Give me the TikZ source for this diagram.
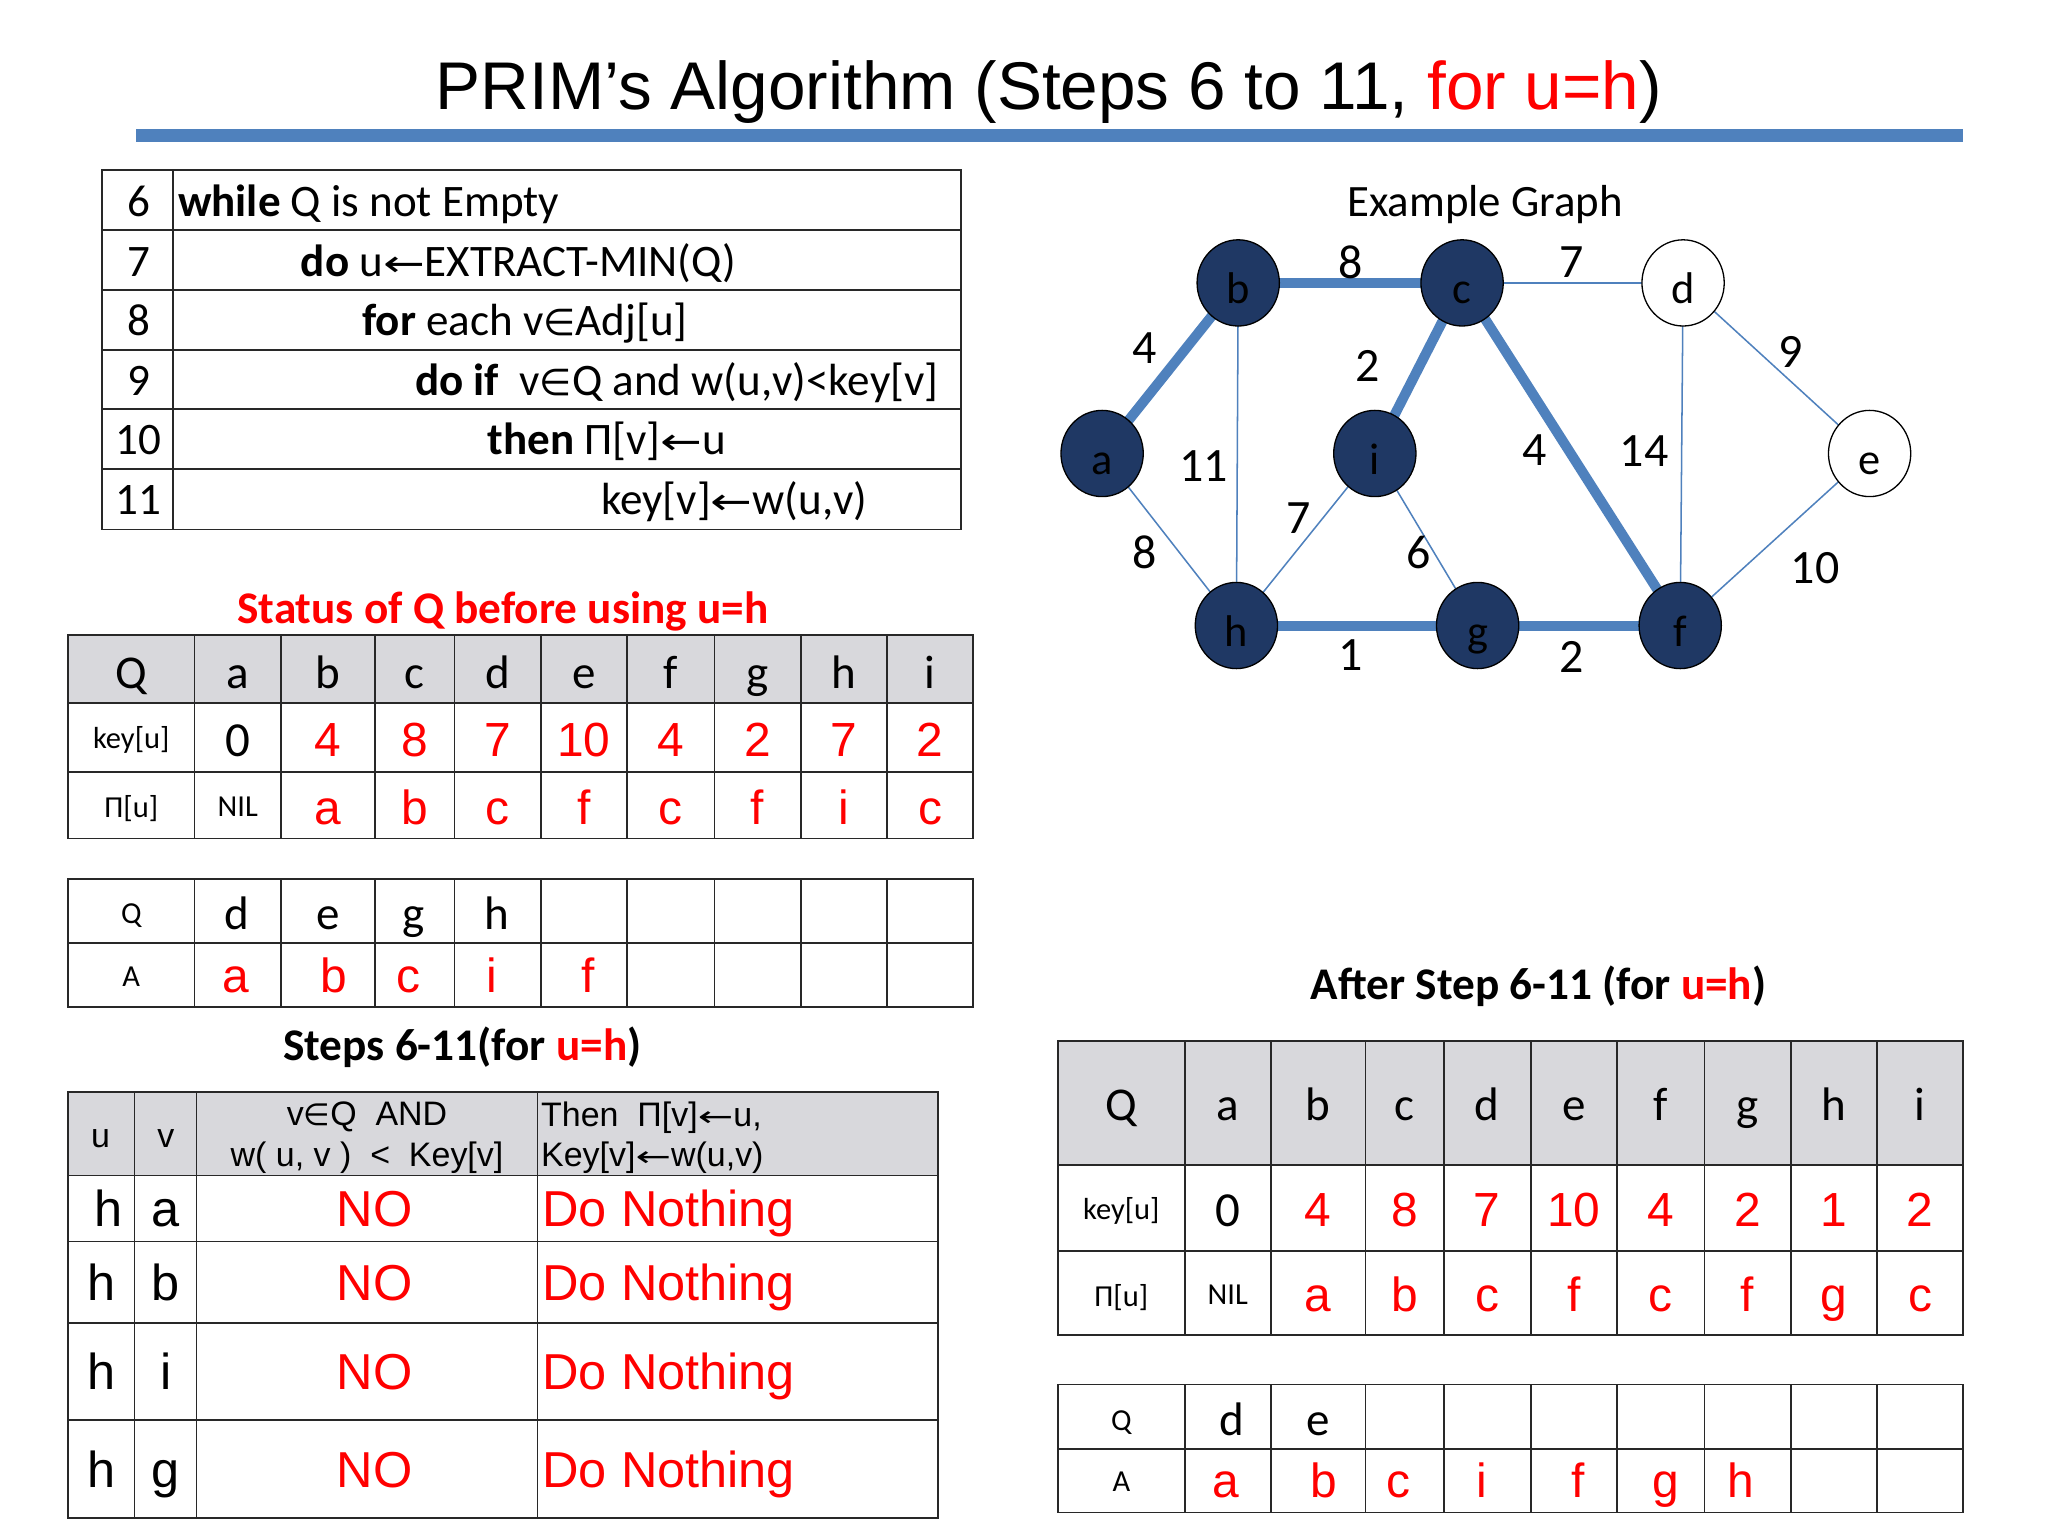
\documentclass[tikz,border=0pt]{standalone}
\usepackage{fontspec}
\setmainfont{Carlito}
\newfontfamily\arialf{Liberation Sans}
\newfontfamily\djv{DejaVu Sans}
\usetikzlibrary{shapes.geometric}
\definecolor{myred}{RGB}{255,0,0}
\definecolor{hdrgray}{RGB}{216,216,220}
\definecolor{navy}{RGB}{31,56,100}
\definecolor{edgeblue}{RGB}{79,129,189}
\definecolor{tline}{RGB}{40,40,40}
\newcommand\fsz[1]{\fontsize{#1}{#1}\selectfont}
\newcommand\larr{{\djv\fsz{17}\scalebox{1.35}[1]{←}}}
\newcommand\elem{{\djv\fsz{17}∈}}
\newcommand\larrA{{\djv\fsz{13}\scalebox{1.5}[1]{←}}}
\newcommand\elemA{{\djv\fsz{14}∈}}
\pgfdeclarelayer{bg}
\pgfdeclarelayer{edges}
\pgfsetlayers{bg,edges,main}
\tikzset{
  tbl/.style={draw=tline, line width=0.8pt},
  tx/.style={inner sep=0pt, anchor=base},
  pcode/.style={tx, anchor=base west, font=\fsz{20.7}},
  hdr/.style={tx, font=\fsz{21.6}},
  lbl/.style={tx, font=\fsz{14}},
  blk/.style={tx, font=\fsz{22.5}},
  rv/.style={tx, font=\arialf\fsz{22}, text=myred},
  heading/.style={tx, font=\bfseries\fsz{20.8}},
  sthdr/.style={tx, font=\arialf\fsz{15.6}},
  stbody/.style={tx, font=\arialf\fsz{23.2}},
  vtx/.style={ellipse, draw=black, line width=0.6pt, fill=navy, minimum width=37.8pt, minimum height=39.6pt, inner sep=0pt, font=\fsz{20.4}, text height=19.2pt, text depth=0pt},
  wvtx/.style={vtx, fill=white},
  mst/.style={draw=edgeblue, line width=4.6pt},
  thin/.style={draw=edgeblue, line width=0.7pt},
  wlab/.style={inner sep=0pt, font=\fsz{22}},
}
\begin{document}
\begin{tikzpicture}[x=0.6pt,y=-0.6pt]
\begin{pgfonlayer}{bg}
\fill[white] (0,0) rectangle (1568,1176);
\end{pgfonlayer}
\useasboundingbox (0,0) rectangle (1568,1176);

% Title
\node[tx, font=\arialf\fsz{31}] (title) at (803,84) {PRIM’s Algorithm (Steps 6 to 11, {\color{myred}for u=h})};
\fill[edgeblue] (104,99) rectangle (1503,108.5);

% Table 1: pseudocode
\draw[tbl] (78,130.2) rectangle (736,405.3);
\foreach \y in {176.1,222,268,313.4,359.1} \draw[tbl] (78,\y) -- (736,\y);
\draw[tbl] (132.6,130.2) -- (132.6,405.3);
\foreach \n/\y in {6/166,7/211.5,8/257,9/302.5,10/348,11/394}
  \node[tx, font=\fsz{20.7}] (pn\n) at (106,\y) {\n};
\node[pcode] (p6) at (136,166) {\textbf{while} Q is not Empty};
\node[pcode] (p7) at (230,211.5) {\textbf{do} u\larr EXTRACT-MIN(Q)};
\node[pcode] (p8) at (277,257) {\textbf{for} each v\elem Adj[u]};
\node[pcode] (p9) at (317.5,302.5) {\textbf{do if}\ \ v\elem Q and w(u,v)<key[v]};
\node[pcode] (p10) at (373,348) {\textbf{then} Π[v]\larr u};
\node[pcode] (p11) at (460,394) {key[v]\larr w(u,v)};

% Status heading
\node[heading, text=myred] (sthead) at (385,477) {Status of Q before using u=h};

% Table 2
\fill[hdrgray] (52,486) rectangle (745,538);
\draw[tbl] (52,486) rectangle (745,642);
\foreach \y in {538,591} \draw[tbl] (52,\y) -- (745,\y);
\foreach \x in {149,215,287,348,414,480,547,613,679} \draw[tbl] (\x,486) -- (\x,642);
\node[hdr] (t2q) at (100.5,527) {Q};
\foreach \c/\x in {a/182,b/251,c/317.5,d/381,e/447,f/513.5,g/580,h/646,i/712}
  \node[hdr] (t2h\c) at (\x,527) {\c};
\node[lbl] (t2key) at (100.5,573) {key[u]};
\node[lbl] (t2pi) at (100.5,626) {Π[u]};
\node[blk] (t2k0) at (182,579) {0};
\foreach \c/\x/\v in {b/251/4,c/317.5/8,d/381/7,e/447/10,f/513.5/4,g/580/2,h/646/7,i/712/2}
  \node[rv] (t2k\c) at (\x,579) {\v};
\node[lbl] (t2nil) at (182,625.5) {NIL};
\foreach \c/\x/\v in {b/251/a,c/317.5/b,d/381/c,e/447/f,f/513.5/c,g/580/f,h/646/i,i/712/c}
  \node[rv] (t2p\c) at (\x,631.5) {\v};

% Table 3
\draw[tbl] (52,673) rectangle (745,771);
\draw[tbl] (52,722) -- (745,722);
\foreach \x in {149,215,287,348,414,480,547,613,679} \draw[tbl] (\x,673) -- (\x,771);
\node[lbl] (t3q) at (100.5,707) {Q};
\node[lbl] (t3a) at (100.5,755) {A};
\foreach \n/\x/\v in {1/181/d,2/251/e,3/317/g,4/380.6/h}
  \node[hdr] (t3q\n) at (\x,711.5) {\v};
\foreach \n/\x/\v in {1/180.7/a,2/255.8/b,3/313/c,4/376.3/i,5/450.4/f}
  \node[rv] (t3a\n) at (\x,760) {\v};

% Steps heading
\node[heading] (sphead) at (354,811.6) {Steps 6-11(for {\color{myred}u=h})};

% Table 4
\fill[hdrgray] (52,836) rectangle (718,900);
\draw[tbl] (52,836) rectangle (718,1162);
\foreach \y in {900,950.5,1012.8,1087} \draw[tbl] (52,\y) -- (718,\y);
\foreach \x in {103,150.5,411.6} \draw[tbl] (\x,836) -- (\x,1162);
\node[sthdr] (h4u) at (77,878.8) {u};
\node[sthdr] (h4v) at (127,878.8) {v};
\node[sthdr] (h4c1) at (281,861.4) {v\elemA Q\ \ AND};
\node[sthdr] (h4c2) at (281,893.3) {w( u, v )\ \ <\ \ Key[v]};
\node[sthdr, anchor=base west] (h4d1) at (414,862.7) {Then\ \ Π[v]\larrA u,};
\node[sthdr, anchor=base west] (h4d2) at (414,893.3) {Key[v]\larrA w(u,v)};
\foreach \n/\hx/\v/\y in {1/83.3/a/939.3,2/77.6/b/995.4,3/77.6/i/1063.8,4/77.6/g/1138.8}{
  \node[stbody] (r\n u) at (\hx,\y) {h};
  \node[stbody] (r\n v) at (127,\y) {\v};
  \node[stbody, text=myred] (r\n no) at (286.8,\y) {NO};
  \node[stbody, text=myred, anchor=base west] (r\n dn) at (415,\y) {Do Nothing};
}

% Graph
\node[tx, font=\fsz{20.6}] (gtitle) at (1137,166) {Example Graph};
\node[vtx] (b) at (948,216.6) {b};
\node[vtx] (c) at (1119.4,216.6) {c};
\node[wvtx] (d) at (1288.6,216.6) {d};
\node[vtx] (a) at (843.8,347.2) {a};
\node[vtx] (i) at (1052.6,347.2) {i};
\node[wvtx] (e) at (1431.4,347.2) {e};
\node[vtx] (h) at (946.6,478.9) {h};
\node[vtx] (g) at (1131.3,478.9) {g};
\node[vtx] (f) at (1286.4,478.9) {f};
\begin{pgfonlayer}{edges}
\draw[mst] (a.center) -- (b.center);
\draw[mst] (b.center) -- (c.center);
\draw[mst] (c.center) -- (i.center);
\draw[mst] (c.center) -- (f.center);
\draw[mst] (h.center) -- (g.center);
\draw[mst] (g.center) -- (f.center);
\draw[thin] (c.center) -- (d.center);
\draw[thin] (d.center) -- (e.center);
\draw[thin] (b.center) -- (h.center);
\draw[thin] (a.center) -- (h.center);
\draw[thin] (i.center) -- (h.center);
\draw[thin] (i.center) -- (g.center);
\draw[thin] (d.center) -- (f.center);
\draw[thin] (e.center) -- (f.center);
\end{pgfonlayer}
\node[wlab] (lbc) at (1033.7,200.7) {8};
\node[wlab] (lcd) at (1202.9,200.7) {7};
\node[wlab] (lab) at (876.3,266.9) {4};
\node[wlab] (lci) at (1046.9,280) {2};
\node[wlab] (lde) at (1371.2,269.5) {9};
\node[wlab] (lbh) at (921.6,357) {11};
\node[wlab] (lcf) at (1175.2,345) {4};
\node[wlab] (ldf) at (1258.7,345) {14};
\node[wlab] (lih) at (994.1,396.7) {7};
\node[wlab] (lah) at (876.3,423.2) {8};
\node[wlab] (lig) at (1086.4,423.2) {6};
\node[wlab] (lef) at (1389.7,435.2) {10};
\node[wlab] (lhg) at (1033.7,501.4) {1};
\node[wlab] (lgf) at (1202.9,502.7) {2};

% After heading
\node[heading] (afhead) at (1178,765) {After Step 6-11 (for {\color{myred}u=h})};

% Table 5
\fill[hdrgray] (810,797) rectangle (1503,892);
\draw[tbl] (810,797) rectangle (1503,1022);
\foreach \y in {892,957.5} \draw[tbl] (810,\y) -- (1503,\y);
\foreach \x in {907,973,1045.5,1105.5,1172,1238,1305,1371,1437} \draw[tbl] (\x,797) -- (\x,1022);
\node[hdr] (t5q) at (858.5,857.8) {Q};
\foreach \c/\x in {a/940,b/1009,c/1075.5,d/1138.7,e/1205,f/1271.5,g/1338,h/1404,i/1470}
  \node[hdr] (t5h\c) at (\x,857.8) {\c};
\node[lbl] (t5key) at (858.5,933.4) {key[u]};
\node[lbl] (t5pi) at (858.5,1000) {Π[u]};
\node[blk] (t5k0) at (940,939) {0};
\foreach \c/\x/\v in {b/1009/4,c/1075.5/8,d/1138.7/7,e/1205/10,f/1271.5/4,g/1338/2,h/1404/1,i/1470/2}
  \node[rv] (t5k\c) at (\x,939) {\v};
\node[lbl] (t5nil) at (940,998.8) {NIL};
\foreach \c/\x/\v in {b/1009/a,c/1075.5/b,d/1138.7/c,e/1205/f,f/1271.5/c,g/1338/f,h/1404/g,i/1470/c}
  \node[rv] (t5p\c) at (\x,1004.4) {\v};

% Table 6
\draw[tbl] (810,1060) rectangle (1503,1158);
\draw[tbl] (810,1109.5) -- (1503,1109.5);
\foreach \x in {907,973,1045.5,1105.5,1172,1238,1305,1371,1437} \draw[tbl] (\x,1060) -- (\x,1158);
\node[lbl] (t6q) at (858.5,1095) {Q};
\node[lbl] (t6a) at (858.5,1141.6) {A};
\node[hdr] (t6q1) at (943.3,1099) {d};
\node[hdr] (t6q2) at (1009,1099) {e};
\foreach \n/\x/\v in {1/938.8/a,2/1013.8/b,3/1071/c,4/1134.3/i,5/1208.4/f,6/1275.3/g,7/1332.5/h}
  \node[rv] (t6a\n) at (\x,1146.5) {\v};
\end{tikzpicture}
\end{document}
